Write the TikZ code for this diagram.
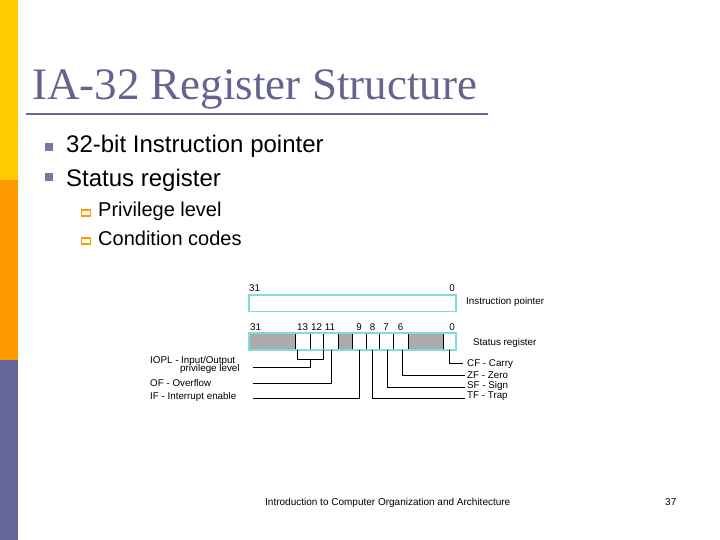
\documentclass[tikz,border=0pt]{standalone}
\usepackage{fontspec}
\setmainfont{Liberation Serif}
\newfontfamily\arialf{Liberation Sans}
\usetikzlibrary{calc}
\definecolor{barY}{HTML}{FFCC00}
\definecolor{barO}{HTML}{FF9900}
\definecolor{barP}{HTML}{666699}
\definecolor{ttl}{HTML}{64648E}
\definecolor{bul}{HTML}{7777A3}
\definecolor{regcy}{HTML}{7FDCDC}
\definecolor{regg}{HTML}{ABABAB}
\tikzset{
  cell/.style={draw=black, line width=0.6pt, minimum height=17, inner sep=0, outer sep=0, anchor=north west},
  gcell/.style={cell, fill=regg},
  regbox/.style={draw=regcy, line width=1.3pt, inner sep=0, outer sep=0, anchor=north west},
  tiny/.style={font=\arialf\fontsize{9.8}{10}\selectfont, inner sep=0, text=black},
  lvlone/.style={font=\arialf\fontsize{24}{28}\selectfont, anchor=base west, inner sep=0},
  lvltwo/.style={font=\arialf\fontsize{20}{24}\selectfont, anchor=base west, inner sep=0},
  conn/.style={draw=black, line width=0.7pt},
  footf/.style={font=\arialf\fontsize{10}{11}\selectfont, anchor=base west, inner sep=0},
}
\begin{document}
\begin{tikzpicture}[x=1pt,y=-1pt]
\useasboundingbox (0,0) rectangle (720,540);
\fill[white] (0,0) rectangle (720,540);
% side bar
\fill[barY] (0,0) rectangle (18,180);
\fill[barO] (0,180) rectangle (18,360);
\fill[barP] (0,360) rectangle (18,540);
% title
\node[font=\fontsize{45}{50}\selectfont, text=ttl, anchor=base west, inner sep=0] (title) at (32,100) {IA-32 Register Structure};
\draw[barP, line width=2.8pt] (26,114) -- (488,114);
% bullets
\node[fill=bul, minimum size=8, inner sep=0] (b1) at (49,147.5) {};
\node[lvlone] (t1) at (66,153) {32-bit Instruction pointer};
\node[fill=bul, minimum size=8, inner sep=0] (b2) at (49,177.5) {};
\node[lvlone] (t2) at (66,187) {Status register};
\node[draw=barO, fill=white, line width=1.2pt, minimum width=9.5, minimum height=6, inner sep=0] (s1) at (86,213) {};
\node[lvltwo] (t3) at (98,217) {Privilege level};
\node[draw=barO, fill=white, line width=1.2pt, minimum width=9.5, minimum height=6, inner sep=0] (s2) at (86,241) {};
\node[lvltwo] (t4) at (98,245) {Condition codes};
% instruction pointer
\node[regbox, fill=white, minimum width=207, minimum height=16.5] (ip) at (249,295) {};
\node[tiny] (ip31) at (254.5,288) {31};
\node[tiny] (ip0) at (452,288) {0};
\node[tiny, anchor=west] (iplab) at (466,302) {Instruction pointer};
% status register cells
\node[gcell, minimum width=46] (g1) at (249,333) {};
\node[cell, minimum width=15] (b13) at (295,333) {};
\node[cell, minimum width=13] (b12) at (310,333) {};
\node[cell, minimum width=15] (b11) at (323,333) {};
\node[gcell, minimum width=14] (g2) at (338,333) {};
\node[cell, minimum width=14] (b9) at (352,333) {};
\node[cell, minimum width=13] (b8) at (366,333) {};
\node[cell, minimum width=14] (b7) at (379,333) {};
\node[cell, minimum width=15] (b6) at (393,333) {};
\node[gcell, minimum width=35] (g3) at (408,333) {};
\node[cell, minimum width=13] (b0) at (443,333) {};
\node[regbox, minimum width=207, minimum height=17] (sr) at (249,333) {};
\node[tiny] (n31) at (255.5,327) {31};
\node[tiny] (n13) at (302.5,327) {13};
\node[tiny] (n12) at (316.5,327) {12};
\node[tiny] (n11) at (330,327) {11};
\node[tiny] (n9) at (359,327) {9};
\node[tiny] (n8) at (372.5,327) {8};
\node[tiny] (n7) at (386,327) {7};
\node[tiny] (n6) at (400.5,327) {6};
\node[tiny] (n0) at (452,327) {0};
\node[tiny, anchor=west] (srlab) at (473,342.5) {Status register};
% left labels
\node[tiny, anchor=west] (liopl) at (150,360.5) {IOPL - Input/Output};
\node[tiny, anchor=west] (liopl2) at (180,369) {privilege level};
\node[tiny, anchor=west] (lof) at (150,382.5) {OF - Overflow};
\node[tiny, anchor=west] (lif) at (150,397) {IF - Interrupt enable};
% right labels
\node[tiny, anchor=west] (rcf) at (467,364) {CF - Carry};
\node[tiny, anchor=west] (rzf) at (467,375) {ZF - Zero};
\node[tiny, anchor=west] (rsf) at (467,385.5) {SF - Sign};
\node[tiny, anchor=west] (rtf) at (467,396.5) {TF - Trap};
% connector free ends
\coordinate (eIOPL) at (253,367.5);
\coordinate (eOF) at (253,383);
\coordinate (eIF) at (253,398);
\coordinate (eCF) at (463,363);
\coordinate (eZF) at (465,375);
\coordinate (eSF) at (465,387);
\coordinate (eTF) at (465,398);
% connectors
\coordinate (brL) at ([xshift=2.5pt]b13.south west);
\draw[conn] (brL) -- ++(0,9) coordinate (brB) -| (b12.south east);
\draw[conn] (brB -| b12.south west) -- (eIOPL -| b12.south west) -- (eIOPL);
\draw[conn] ([xshift=0.5pt]b11.south) |- (eOF);
\draw[conn] (b9.south) |- (eIF);
\draw[conn] (b8.south) |- (eTF);
\draw[conn] ([xshift=1pt]b7.south) |- (eSF);
\draw[conn] ([xshift=1.5pt]b6.south) |- (eZF);
\draw[conn] (b0.south) |- (eCF);
% footer
\node[footf] (foot) at (265,505) {Introduction to Computer Organization and Architecture};
\node[footf] (pg) at (665,505) {37};
\end{tikzpicture}
\end{document}
